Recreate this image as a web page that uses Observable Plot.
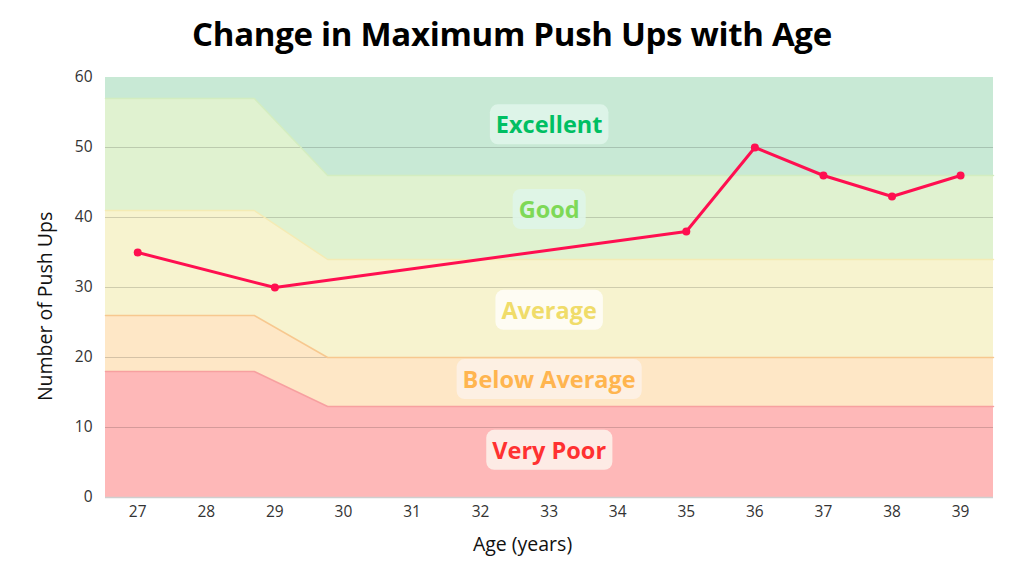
<!DOCTYPE html>
<html>
<head>
<meta charset="utf-8">
<script src="https://cdn.jsdelivr.net/npm/d3@7"></script>
<script src="https://cdn.jsdelivr.net/npm/@observablehq/plot@0.6"></script>
<style>
  body { margin: 0; background: #fff; }
  #title { height: 60px; line-height: 68px; text-align: center; font-family: "Open Sans", sans-serif; font-weight: 700; font-size: 33px; color: #000; letter-spacing: -0.3px; overflow: visible; white-space: nowrap; }
</style>
</head>
<body>
<div id="title">Change in Maximum Push Ups with Age</div>
<div id="chart"></div>
<script>
// Measured series
const ages = [27, 29, 35, 36, 37, 38, 39];
const pushUps = [35, 30, 38, 50, 46, 43, 46];

// Fitness band boundaries (upper edge of each band) at the band break ages
const bandAges = [26.53, 28.7, 29.77, 39.48];
const veryPoorTop = [18, 18, 13, 13];
const belowAverageTop = [26, 26, 20, 20];
const averageTop = [41, 41, 34, 34];
const goodTop = [57, 57, 46, 46];
const excellentTop = [60, 60, 60, 60];

const bandNames = ["Very Poor", "Below Average", "Average", "Good", "Excellent"];
const bandFills = ["#feb8b8", "#fee7c6", "#f7f3cf", "#e0f2d0", "#c8e9d5"];
const bandEdges = ["#f7a0a0", "#f7c88f", "#f4ebb4", "#d3edc0", "#c8e9d5"];
const labelColors = ["#ff3131", "#ffb54f", "#f0dc6a", "#7ed957", "#00bf63"];
const labelBgs = ["#fdf1ea", "#fdf1e6", "#fefdf6", "#dff5e8", "#dff5ea"];
const labelY = [6.6, 16.7, 26.6, 41, 53.1];
const labelAge = 33;

const xTicks = [27, 28, 29, 30, 31, 32, 33, 34, 35, 36, 37, 38, 39];
const yTicks = [0, 10, 20, 30, 40, 50, 60];
const yTitle = "Number of Push Ups";
const xTitle = "Age (years)";

const tops = [veryPoorTop, belowAverageTop, averageTop, goodTop, excellentTop];
const bandMarks = [];
tops.forEach((top, i) => {
  const rows = bandAges.map((a, j) => ({x: a, y1: i === 0 ? 0 : tops[i - 1][j], y2: top[j]}));
  bandMarks.push(Plot.areaY(rows, {x: "x", y1: "y1", y2: "y2", fill: bandFills[i], curve: "linear"}));
});

const edgeMarks = tops.slice(0, 4).map((top, i) =>
  Plot.lineY(bandAges.map((a, j) => ({x: a, y: top[j]})), {x: "x", y: "y", stroke: bandEdges[i], strokeWidth: 1.5})
);

const series = ages.map((a, i) => ({age: a, v: pushUps[i]}));
const labelMarks = bandNames.map((n, i) =>
  Plot.text([n], {x: () => labelAge, y: () => labelY[i], text: d => d, fill: labelColors[i],
    fontSize: 23.5, fontWeight: 700, fontFamily: "Open Sans"})
);

const chart = Plot.plot({
  width: 1024,
  height: 516,
  marginLeft: 105,
  marginRight: 31,
  marginTop: 17,
  marginBottom: 79,
  style: {fontFamily: "Open Sans, sans-serif", fontSize: "15.5px", color: "#333", background: "#fff"},
  x: {domain: [bandAges[0], bandAges[bandAges.length - 1]], ticks: xTicks, tickSize: 0, tickPadding: 8, label: null, tickFormat: d => String(d)},
  y: {domain: [0, 60], ticks: yTicks, tickSize: 0, tickPadding: 13, label: null},
  marks: [
    ...bandMarks,
    Plot.ruleY(yTicks.filter(t => t > 0 && t < 60), {stroke: "#000", strokeOpacity: 0.16, strokeWidth: 1}),
    ...edgeMarks,
    Plot.ruleY([0], {stroke: "#cfcfcf", strokeWidth: 1.5}),
    Plot.line(series, {x: "age", y: "v", stroke: "#ff0f50", strokeWidth: 3}),
    Plot.dot(series, {x: "age", y: "v", fill: "#ff0f50", r: 4}),
    ...labelMarks,
    Plot.text([yTitle], {frameAnchor: "left", y: () => 27.3, textAnchor: "middle", dx: -60, rotate: -90, fontSize: 19.5, fill: "#111"}),
    Plot.text([xTitle], {frameAnchor: "bottom", dx: -27, dy: 53, fontSize: 19.5, fill: "#111"})
  ]
});

document.getElementById("chart").appendChild(chart);

// Rounded backgrounds behind band labels
chart.querySelectorAll("text").forEach(t => {
  const i = bandNames.indexOf(t.textContent);
  if (i < 0) return;
  const b = t.getBBox();
  const ns = "http://www.w3.org/2000/svg";
  const r = document.createElementNS(ns, "rect");
  const padX = 6, padY = 5;
  r.setAttribute("x", b.x - padX);
  r.setAttribute("y", b.y - padY + 1);
  r.setAttribute("width", b.width + 2 * padX);
  r.setAttribute("height", b.height + 2 * padY - 2);
  r.setAttribute("rx", 8);
  r.setAttribute("fill", labelBgs[i]);
  r.setAttribute("fill-opacity", 0.9);
  const tr = t.getAttribute("transform");
  if (tr) r.setAttribute("transform", tr);
  t.parentNode.insertBefore(r, t);
});
</script>
</body>
</html>
